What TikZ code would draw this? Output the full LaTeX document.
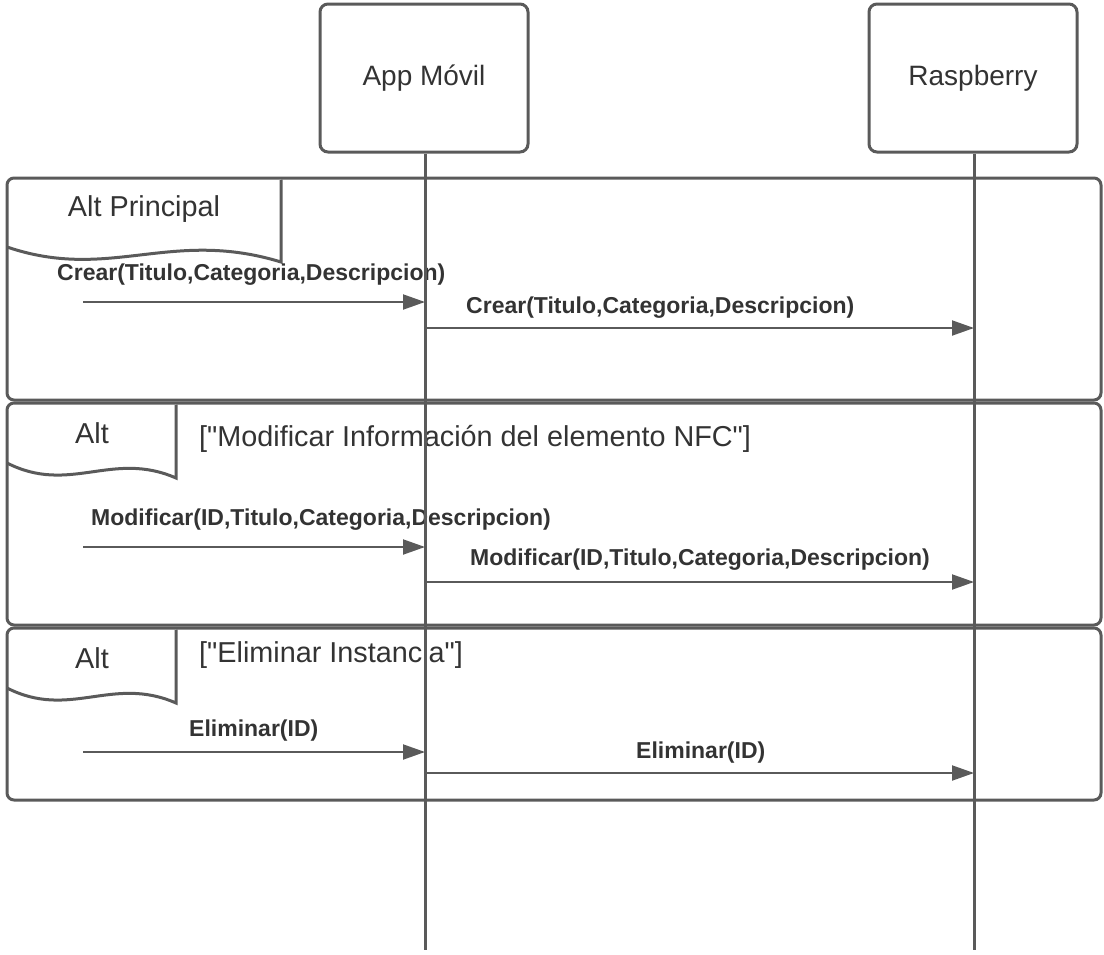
\documentclass[tikz,border=0pt]{standalone}
\usepackage{fontspec}
\setmainfont{Liberation Sans}[Ligatures=TeXOff]
\usetikzlibrary{arrows.meta}
\definecolor{ln}{HTML}{5A5A5A}
\definecolor{tx}{HTML}{333333}
\begin{document}
\begin{tikzpicture}[x=1pt,y=-1pt,
  part/.style={draw=ln, line width=3pt, rounded corners=8pt, minimum width=208pt, minimum height=148pt, inner sep=0pt, text=tx, font=\fontsize{28}{30}\selectfont},
  lifeline/.style={draw=ln, line width=3pt},
  frame/.style={draw=ln, line width=3pt, rounded corners=7pt},
  tab/.style={draw=ln, line width=3pt, fill=white},
  msg/.style={draw=ln, line width=2pt, -{Triangle[length=22pt,width=15pt]}},
  lbl/.style={text=tx, font=\bfseries\fontsize{23}{26}\selectfont, inner sep=0pt, anchor=west},
  reg/.style={text=tx, font=\fontsize{28.8}{31}\selectfont, inner sep=0pt},
]
\useasboundingbox (0,0) rectangle (1104,954);
% frames
\draw[frame] (7,178) rectangle (1101,400);
\draw[frame] (7,403) rectangle (1101,625);
\draw[frame] (7,628) rectangle (1101,800);
% tabs
\draw[tab] (281,179.5) -- (281,262) .. controls (170,228) and (110,282) .. (7,247);
\draw[tab] (176,404.5) -- (176,478) .. controls (112,450) and (70,495) .. (7,463);
\draw[tab] (176,629.5) -- (176,703) .. controls (112,675) and (70,720) .. (7,688);
\node[reg] (t1) at (144,209) {Alt Principal};
\node[reg] (t2) at (92,433) {Alt};
\node[reg] (t3) at (92,658) {Alt};
\node[reg, anchor=west] (g2) at (199,439) {["Modificar Información del elemento NFC"]};
\node[reg, anchor=west] (g3) at (199,655) {["Eliminar Instancia"]};
% participants
\node[part] (app) at (424,78) {App Móvil};
\node[part] (ras) at (973,78) {Raspberry};
\coordinate (append) at (425,950);
\coordinate (rasend) at (974,950);
% messages
\coordinate (a1) at (83,302);  \coordinate (b1) at (425,302);
\coordinate (a2) at (425,328); \coordinate (b2) at (974,328);
\coordinate (a3) at (83,547);  \coordinate (b3) at (425,547);
\coordinate (a4) at (425,582); \coordinate (b4) at (974,582);
\coordinate (a5) at (83,752);  \coordinate (b5) at (425,752);
\coordinate (a6) at (425,773); \coordinate (b6) at (974,773);
\node[lbl] (l1) at (57,275) {Crear(Titulo,Categoria,Descripcion)};
\node[lbl] (l2) at (466,308) {Crear(Titulo,Categoria,Descripcion)};
\node[lbl] (l3) at (91,520) {Modificar(ID,Titulo,Categoria,Descripcion)};
\node[lbl] (l4) at (470,560) {Modificar(ID,Titulo,Categoria,Descripcion)};
\node[lbl] (l5) at (189,731) {Eliminar(ID)};
\node[lbl] (l6) at (636,753) {Eliminar(ID)};
% lifelines
\draw[lifeline] (app.south -| append) -- (append);
\draw[lifeline] (ras.south -| rasend) -- (rasend);
\draw[msg] (a1) -- (b1);
\draw[msg] (a2) -- (b2);
\draw[msg] (a3) -- (b3);
\draw[msg] (a4) -- (b4);
\draw[msg] (a5) -- (b5);
\draw[msg] (a6) -- (b6);
\end{tikzpicture}
\end{document}
